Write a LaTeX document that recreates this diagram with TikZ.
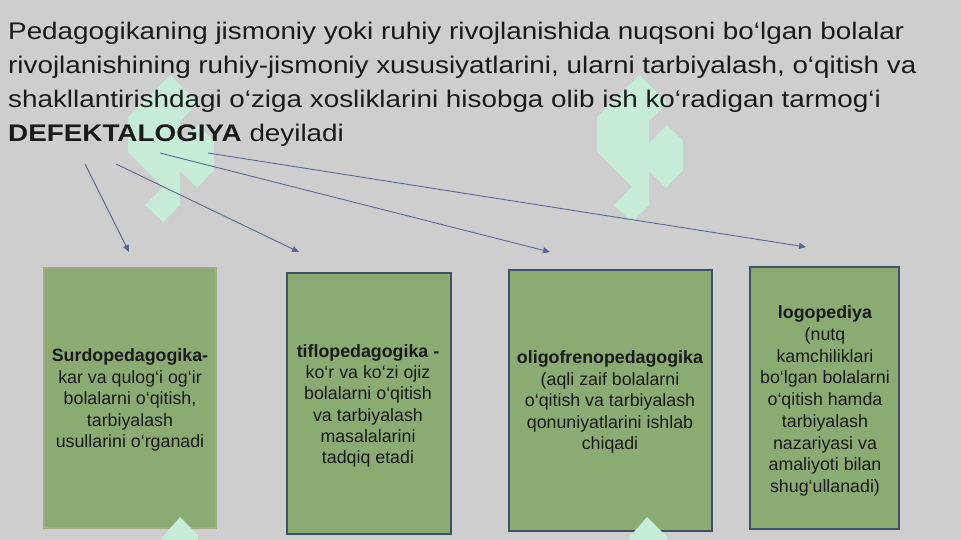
\documentclass[tikz,border=0pt]{standalone}
\usepackage{fontspec}
\setmainfont{Liberation Sans}
\newfontfamily\headfont[FakeStretch=1.16]{Liberation Sans}
\usetikzlibrary{arrows.meta}
\definecolor{bg}{HTML}{CECECE}
\definecolor{boxgreen}{HTML}{8AAB72}
\definecolor{edgeA}{HTML}{A4AA7C}
\definecolor{edgeB}{HTML}{3E5166}
\definecolor{mint}{HTML}{C6ECD7}
\definecolor{arrowc}{HTML}{5A6890}
\definecolor{ink}{HTML}{1A1A1A}
\tikzset{
  greenbox/.style={draw=edgeB, line width=1.2pt, fill=boxgreen, inner sep=0pt},
  boxtext/.style={align=center, inner sep=0pt, text=ink},
  conn/.style={draw=arrowc, line width=0.9pt, -{Triangle[length=7pt,width=6pt]}},
  wm/.style={fill=mint}
}
\begin{document}
\begin{tikzpicture}[x=1pt,y=-1pt]
\useasboundingbox (0,0) rectangle (961,540);
\fill[bg] (0,0) rectangle (961,540);
% watermark shapes
\foreach \dx in {0,469}{
  \fill[wm, xshift=\dx pt] (170,75) -- (198,103) -- (180,121) -- (180,205) -- (163,222) -- (145,205) -- (163,187) -- (128,152) -- (128,117) -- cycle;
  \fill[wm, xshift=\dx pt] (198,125) -- (214,141) -- (214,170) -- (197,188) -- (180,171) -- (180,143) -- cycle;
}
% heading (anchor at the baseline of its last line)
\node[anchor=base west, inner sep=0pt, align=left, text=ink,
      font=\headfont\fontsize{24}{34.1}\selectfont] (head) at (8,141.6)
{Pedagogikaning jismoniy yoki ruhiy rivojlanishida nuqsoni bo‘lgan bolalar\\
rivojlanishining ruhiy-jismoniy xususiyatlarini, ularni tarbiyalash, o‘qitish va\\
shakllantirishdagi o‘ziga xosliklarini hisobga olib ish ko‘radigan tarmog‘i\\
\textbf{DEFEKTALOGIYA} deyiladi};
% arrows
\coordinate (s1) at (85,164);  \coordinate (e1) at (129,252);
\coordinate (s2) at (116,164); \coordinate (e2) at (299,252);
\coordinate (s3) at (160,153); \coordinate (e3) at (550,252);
\coordinate (s4) at (208,153); \coordinate (e4) at (806,247);
\draw[conn] (s1) -- (e1);
\draw[conn] (s2) -- (e2);
\draw[conn] (s3) -- (e3);
\draw[conn] (s4) -- (e4);
% boxes
\node[greenbox, draw=edgeA, minimum width=172pt, minimum height=260pt] (b1) at (130,398) {};
\node[greenbox, minimum width=164pt, minimum height=261pt] (b2) at (369,403.5) {};
\node[greenbox, minimum width=203pt, minimum height=261pt] (b3) at (610.5,400.5) {};
\node[greenbox, minimum width=149pt, minimum height=262pt] (b4) at (824.5,398) {};
% box texts
\node[boxtext, font=\fontsize{17.8}{21.5}\selectfont] (t1) at (130,400)
{\textbf{Surdopedagogika-}\\kar va qulog‘i og‘ir\\bolalarni o‘qitish,\\tarbiyalash\\usullarini o‘rganadi};
\node[boxtext, font=\fontsize{17.8}{21.3}\selectfont] (t2) at (368,406)
{\textbf{tiflopedagogika -}\\ko‘r va ko‘zi ojiz\\bolalarni o‘qitish\\va tarbiyalash\\masalalarini\\tadqiq etadi};
\node[boxtext, font=\fontsize{17.8}{21.5}\selectfont] (t3) at (610,402)
{\textbf{oligofrenopedagogika}\\(aqli zaif bolalarni\\o‘qitish va tarbiyalash\\qonuniyatlarini ishlab\\chiqadi};
\node[boxtext, font=\fontsize{17.8}{21.7}\selectfont] (t4) at (825,401)
{\textbf{logopediya}\\(nutq\\kamchiliklari\\bo‘lgan bolalarni\\o‘qitish hamda\\tarbiyalash\\nazariyasi va\\amaliyoti bilan\\shug‘ullanadi)};
% bottom watermark pieces
\fill[wm] (160,540) -- (180,517) -- (198,535) -- (198,540) -- cycle;
\fill[wm] (627,540) -- (647,517) -- (667,537) -- (667,540) -- cycle;
\end{tikzpicture}
\end{document}
